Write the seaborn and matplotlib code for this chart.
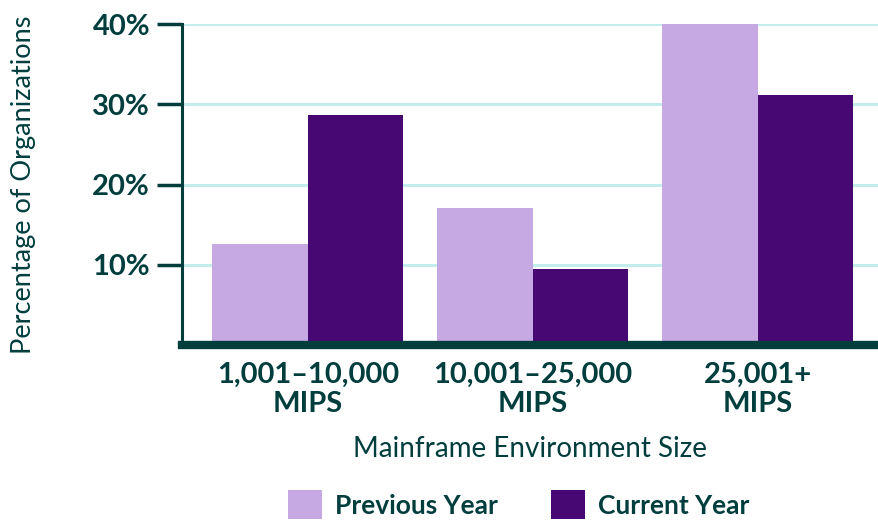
import matplotlib
matplotlib.use("Agg")
import matplotlib.pyplot as plt
import seaborn as sns
import pandas as pd

# data
categories = ["1,001–10,000\nMIPS", "10,001–25,000\nMIPS", "25,001+\nMIPS"]
previous_year = [12.6, 17.1, 40.0]
current_year = [28.7, 9.5, 31.2]
series_names = ["Previous Year", "Current Year"]
y_ticks = [10, 20, 30, 40]

text_color = "#003d3d"
colors = ["#c6a8e2", "#480873"]
grid_color = "#c3ecec"

df = pd.DataFrame({
    "size": categories * 2,
    "pct": previous_year + current_year,
    "series": [series_names[0]] * 3 + [series_names[1]] * 3,
})

sns.set_theme(style="white")
plt.rcParams["font.family"] = ["Lato", "DejaVu Sans"]

fig = plt.figure(figsize=(8.79, 5.23), dpi=100)
ax = fig.add_axes([0.207, 0.340, 0.793, 0.614])

sns.barplot(data=df, x="size", y="pct", hue="series", hue_order=series_names,
            order=categories, palette=colors, width=0.85, gap=0,
            linewidth=0, saturation=1, ax=ax, zorder=3, legend=False)

ax.set_ylim(0, 40)
ax.set_xlim(-0.56, 2.54)
ax.set_yticks(y_ticks)
ax.set_yticklabels([f"{t}%" for t in y_ticks], fontsize=21, fontweight="bold",
                   color=text_color)
ax.set_xticks(range(len(categories)))
ax.set_xticklabels(categories, fontsize=21, fontweight="bold", color=text_color,
                   linespacing=1.15)

for t in y_ticks:
    ax.axhline(t, color=grid_color, lw=2.2, zorder=1)

for side in ["top", "right"]:
    ax.spines[side].set_visible(False)
ax.spines["left"].set_color(text_color)
ax.spines["left"].set_linewidth(2.2)
ax.spines["bottom"].set_color(text_color)
ax.spines["bottom"].set_linewidth(6)
ax.spines["bottom"].set_zorder(5)
ax.spines["left"].set_zorder(5)

ax.tick_params(axis="y", direction="out", length=18, width=2.5, color=text_color,
               pad=5, left=True)
ax.tick_params(axis="x", length=0, pad=12)

ax.set_xlabel("Mainframe Environment Size", fontsize=20, color=text_color,
              labelpad=14)
ax.set_ylabel("Percentage of Organizations", fontsize=19.5, color=text_color)
ax.yaxis.set_label_coords(-0.21, 0.5)

proxies = [plt.Rectangle((0, 0), 1, 1, fc=c, ec="none", label=n)
           for c, n in zip(colors, series_names)]
leg = fig.legend(handles=proxies, loc="center", bbox_to_anchor=(0.59, 0.035),
                 ncol=2, frameon=False, handlelength=1.3, handleheight=1.3,
                 handletextpad=0.5, columnspacing=2.0,
                 prop={"size": 19, "weight": "bold"})
for txt in leg.get_texts():
    txt.set_color(text_color)

fig.savefig("out.png", dpi=100)
